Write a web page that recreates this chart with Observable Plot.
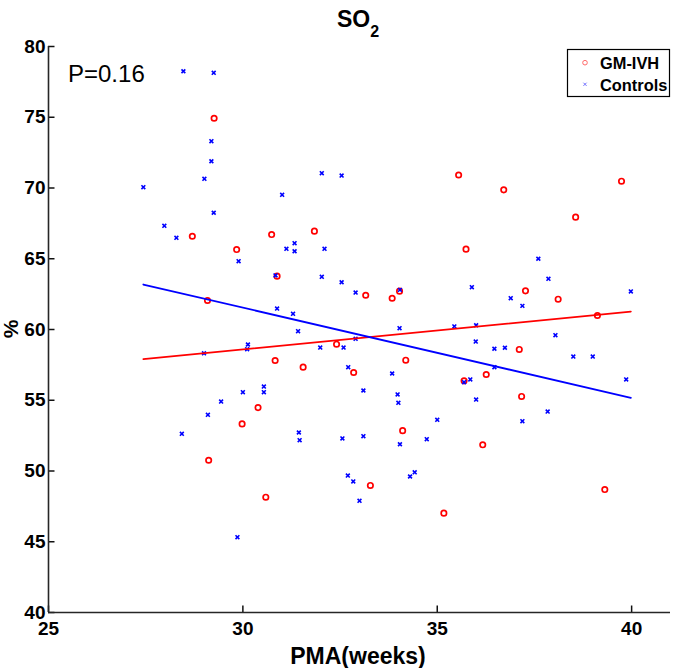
<!DOCTYPE html>
<html>
<head>
<meta charset="utf-8">
<script src="https://cdn.jsdelivr.net/npm/d3@7"></script>
<script src="https://cdn.jsdelivr.net/npm/@observablehq/plot@0.6"></script>
<style>
  html, body { margin: 0; padding: 0; background: #fff; }
  #chart { width: 675px; height: 668px; }
</style>
</head>
<body>
<div id="chart"></div>
<script>
// ---- data ----
const xTicks = [25, 30, 35, 40];
const yTicks = [40, 45, 50, 55, 60, 65, 70, 75, 80];

// GM-IVH (red circles)
const ivhPMA = [29.26, 28.70, 30.74, 31.84, 35.55, 36.71, 39.74, 38.56, 29.84, 29.09,
  30.39, 29.98, 30.88, 33.16, 33.84, 34.03, 32.41, 30.83, 31.55, 34.19,
  32.85, 34.11, 35.74, 37.27, 38.11, 39.12, 37.11, 36.26, 35.69, 37.17,
  29.12, 33.28, 30.59, 35.17, 36.17, 39.31];
const ivhSO2 = [74.93, 66.59, 66.71, 66.95, 70.92, 69.87, 70.48, 67.94, 65.65, 62.05,
  54.48, 53.33, 63.77, 62.42, 62.21, 62.71, 58.96, 57.81, 57.34, 57.83,
  56.96, 52.85, 65.68, 62.73, 62.14, 60.99, 58.59, 56.82, 56.37, 55.27,
  50.76, 48.98, 48.15, 47.02, 51.85, 48.69];

// Controls (blue crosses)
const ctlPMA = [28.47, 29.25, 29.19, 29.19, 29.01, 27.44, 29.25, 27.98, 28.29, 32.03,
  32.54, 31.01, 29.89, 29.00, 30.13, 30.11, 30.00, 29.44, 29.10, 31.12,
  31.33, 31.33, 32.10, 30.84, 32.03, 32.54, 32.90, 34.04, 30.88, 31.29,
  31.42, 34.03, 35.44, 32.90, 31.99, 32.59, 32.71, 33.84, 30.54, 30.54,
  33.10, 33.98, 34.00, 35.00, 37.60, 37.86, 35.89, 36.89, 37.19, 39.98,
  36.00, 38.04, 35.99, 36.47, 36.74, 38.50, 39.00, 36.47, 39.86, 35.69,
  35.85, 36.00, 37.84, 37.19, 28.43, 29.86, 31.44, 31.46, 32.56, 33.10,
  34.04, 34.73, 32.70, 32.84, 33.00, 34.30, 34.42];
const ctlSO2 = [78.25, 78.14, 73.31, 71.89, 70.65, 70.06, 68.25, 67.33, 66.48, 71.05,
  70.88, 69.52, 64.83, 58.32, 58.94, 58.61, 55.57, 54.91, 53.97, 65.70,
  66.10, 65.53, 65.70, 63.82, 63.72, 63.34, 62.61, 62.80, 61.48, 61.11,
  59.88, 60.09, 60.22, 59.34, 58.72, 58.72, 57.34, 56.89, 55.97, 55.57,
  55.69, 55.41, 54.82, 53.62, 65.00, 63.58, 62.99, 62.21, 61.67, 62.69,
  60.30, 59.60, 59.15, 58.64, 58.71, 58.09, 58.09, 57.34, 56.47, 56.28,
  56.47, 55.05, 54.20, 53.52, 52.63, 45.32, 52.72, 52.18, 52.30, 52.46,
  51.89, 52.25, 49.68, 49.26, 47.89, 49.61, 49.91];

// fitted lines (end points)
const fitPMA = [27.44, 39.98];
const ivhFit = [57.90, 61.27];
const ctlFit = [63.18, 55.17];

const titleText = "SO";
const titleSub = "2";
const xLabel = "PMA(weeks)";
const yLabel = "%";
const pText = "P=0.16";
const seriesNames = ["GM-IVH", "Controls"];

// ---- build tables ----
const ivh = ivhPMA.map((x, i) => ({x, y: ivhSO2[i]}));
const ctl = ctlPMA.map((x, i) => ({x, y: ctlSO2[i]}));
const ivhLine = fitPMA.map((x, i) => ({x, y: ivhFit[i]}));
const ctlLine = fitPMA.map((x, i) => ({x, y: ctlFit[i]}));

const FONT = "'Liberation Sans', Arial, Helvetica, sans-serif";
const W = 675, H = 668, ML = 48, MR = 5, MT = 46, MB = 56;
const XMIN = 25, XMAX = 41, YMIN = 40, YMAX = 80;
const TICK = 6.5; // px
const tickDy = TICK * (YMAX - YMIN) / (H - MT - MB);
const tickDx = TICK * (XMAX - XMIN) / (W - ML - MR);

const plot = Plot.plot({
  width: W,
  height: H,
  marginLeft: ML,
  marginRight: MR,
  marginTop: MT,
  marginBottom: MB,
  style: {fontFamily: FONT, background: "#fff", color: "#000", overflow: "visible"},
  x: {domain: [XMIN, XMAX], label: null},
  y: {domain: [YMIN, YMAX], label: null},
  marks: [
    Plot.axisX({ticks: xTicks, tickSize: 0, tickPadding: 9, fontSize: 19, fontWeight: "bold", label: null}),
    Plot.axisY({ticks: yTicks, tickSize: 0, tickPadding: 3, fontSize: 19, fontWeight: "bold", label: null}),
    // inward tick marks
    Plot.ruleX(xTicks, {x: d => d, y1: YMIN, y2: YMIN + tickDy, stroke: "#111", strokeWidth: 1.5}),
    Plot.ruleY(yTicks, {y: d => d, x1: XMIN, x2: XMIN + tickDx, stroke: "#111", strokeWidth: 1.5}),
    Plot.ruleX([XMIN], {stroke: "#262626", strokeWidth: 1.6}),
    Plot.ruleY([YMIN], {stroke: "#262626", strokeWidth: 1.6}),
    Plot.dot(ivh, {x: "x", y: "y", r: 2.7, stroke: "#ff0000", strokeWidth: 1.7, fill: "none"}),
    Plot.dot(ctl, {x: "x", y: "y", symbol: "times", r: 1.9, stroke: "#0000ff", strokeWidth: 1.6}),
    Plot.line(ivhLine, {x: "x", y: "y", stroke: "#ff0000", strokeWidth: 1.8}),
    Plot.line(ctlLine, {x: "x", y: "y", stroke: "#0000ff", strokeWidth: 1.8})
  ]
});

document.getElementById("chart").appendChild(plot);

// ---- annotations (real text) ----
const svg = d3.select(plot);

// title with subscript
const t = svg.append("text")
  .attr("x", 337).attr("y", 26.5)
  .attr("text-anchor", "start")
  .attr("font-family", FONT).attr("font-weight", "bold").attr("font-size", 23)
  .attr("fill", "#000");
t.append("tspan").text(titleText);
t.append("tspan").attr("font-size", 16).attr("dy", 10).text(titleSub);

// x label
svg.append("text")
  .attr("x", 358).attr("y", 664)
  .attr("text-anchor", "middle")
  .attr("font-family", FONT).attr("font-weight", "bold").attr("font-size", 23)
  .attr("fill", "#000").text(xLabel);

// y label
svg.append("text")
  .attr("transform", "translate(18,329) rotate(-90)")
  .attr("text-anchor", "middle")
  .attr("font-family", FONT).attr("font-weight", "bold").attr("font-size", 21)
  .attr("fill", "#000").text(yLabel);

// P value
svg.append("text")
  .attr("x", 68).attr("y", 81.5)
  .attr("text-anchor", "start")
  .attr("font-family", FONT).attr("font-size", 24)
  .attr("fill", "#000").text(pText);

// legend
const lg = svg.append("g");
lg.append("rect")
  .attr("x", 567.5).attr("y", 49.5).attr("width", 102).attr("height", 47)
  .attr("fill", "#fff").attr("stroke", "#000").attr("stroke-width", 1.2);
lg.append("circle").attr("cx", 585).attr("cy", 62.7).attr("r", 2.3)
  .attr("fill", "none").attr("stroke", "#ff6a6a").attr("stroke-width", 1);
lg.append("path").attr("d", "M583.4,82.7L586.6,85.9M583.4,85.9L586.6,82.7")
  .attr("stroke", "#7070ff").attr("stroke-width", 1);
lg.append("text").attr("x", 600).attr("y", 69.3)
  .attr("text-anchor", "start")
  .attr("font-family", FONT).attr("font-weight", "bold").attr("font-size", 16.4)
  .attr("fill", "#000").text(seriesNames[0]);
lg.append("text").attr("x", 600).attr("y", 91)
  .attr("text-anchor", "start")
  .attr("font-family", FONT).attr("font-weight", "bold").attr("font-size", 16.4)
  .attr("fill", "#000").text(seriesNames[1]);
</script>
</body>
</html>
